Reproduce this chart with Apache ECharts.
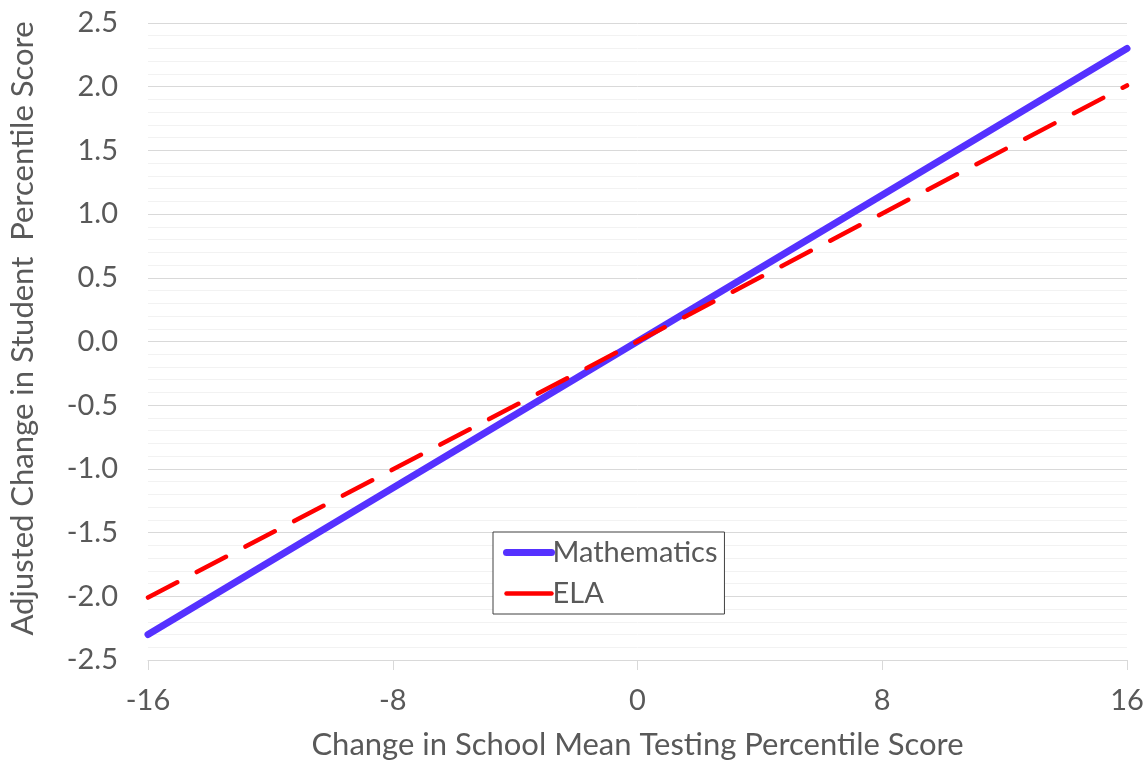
<!DOCTYPE html>
<html>
<head>
<meta charset="utf-8">
<script src="https://cdn.jsdelivr.net/npm/echarts@6/dist/echarts.min.js"></script>
<style>
  html, body { margin: 0; padding: 0; background: #fff; }
  #chart { width: 1146px; height: 762px; }
</style>
</head>
<body>
<div id="chart"></div>
<script>
// x values where the fitted lines are drawn
const xPoints = [-16, 0, 16];
// fitted lines
const mathValues = [-2.3, 0, 2.3];
const elaValues = [-2.01, 0, 2.01];
const seriesNames = ['Mathematics', 'ELA'];

const textColor = '#595959';
const fontFamily = 'Lato, "Open Sans", sans-serif';

const chart = echarts.init(document.getElementById('chart'));

const option = {
  animation: false,
  backgroundColor: '#ffffff',
  grid: { left: 148, right: 19, top: 23, bottom: 102, outerBoundsMode: 'none' },
  legend: {
    orient: 'vertical',
    left: 493,
    top: 532,
    padding: [6, 7, 6, 10],
    itemWidth: 45,
    itemHeight: 24,
    itemGap: 12,
    backgroundColor: '#ffffff',
    borderColor: '#404040',
    borderWidth: 1,
    itemStyle: { opacity: 0 },
    textStyle: { color: textColor, fontSize: 29, fontFamily: fontFamily, padding: [0, 0, 0, -4] },
    data: [
      { name: seriesNames[0], lineStyle: { width: 7, cap: 'round' } },
      { name: seriesNames[1], lineStyle: { width: 4.5, type: 'solid', cap: 'round' } }
    ]
  },
  xAxis: {
    type: 'value',
    min: -16,
    max: 16,
    interval: 8,
    name: 'Change in School Mean Testing Percentile Score',
    nameLocation: 'middle',
    nameGap: 69,
    nameTextStyle: { color: textColor, fontSize: 31, fontFamily: fontFamily },
    axisLine: { onZero: false, lineStyle: { color: '#d9d9d9', width: 1 } },
    axisTick: { show: true, length: 10, lineStyle: { color: '#d9d9d9' } },
    axisLabel: { color: textColor, fontSize: 29, fontFamily: fontFamily, margin: 26 },
    splitLine: { show: false }
  },
  yAxis: {
    type: 'value',
    min: -2.5,
    max: 2.5,
    interval: 0.5,
    name: 'Adjusted Change in Student  Percentile Score',
    nameLocation: 'middle',
    nameGap: 110,
    nameTextStyle: { color: textColor, fontSize: 31, fontFamily: fontFamily, padding: [0, 0, 0, 26] },
    axisLine: { show: false },
    axisTick: { show: false },
    axisLabel: {
      color: textColor, fontSize: 29, fontFamily: fontFamily, margin: 30,
      formatter: v => v.toFixed(1)
    },
    splitLine: { show: true, lineStyle: { color: '#d9d9d9', width: 1 } },
    minorTick: { show: false, splitNumber: 5 },
    minorSplitLine: { show: true, lineStyle: { color: '#f2f2f2', width: 1 } }
  },
  series: [
    {
      name: seriesNames[0],
      type: 'line',
      symbol: 'none',
      data: xPoints.map((x, i) => [x, mathValues[i]]),
      lineStyle: { color: '#5531FF', width: 7, cap: 'round' },
      itemStyle: { color: '#5531FF' },
      z: 3
    },
    {
      name: seriesNames[1],
      type: 'line',
      symbol: 'none',
      data: xPoints.map((x, i) => [x, elaValues[i]]),
      lineStyle: { color: '#FF0000', width: 4.5, type: [33, 22], cap: 'round' },
      itemStyle: { color: '#FF0000' },
      z: 4
    }
  ]
};

chart.setOption(option);
</script>
</body>
</html>
